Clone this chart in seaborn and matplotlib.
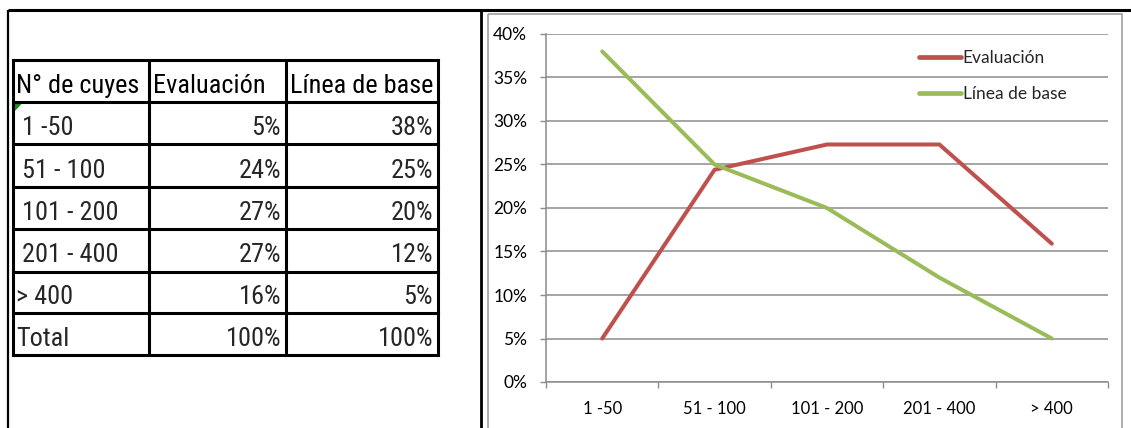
import matplotlib
matplotlib.use("Agg")
import matplotlib.pyplot as plt
from matplotlib import font_manager as fm
from matplotlib.patches import Polygon, Rectangle
from matplotlib.ticker import FixedLocator, PercentFormatter, NullFormatter
import numpy as np
import pandas as pd
import seaborn as sns

# ---- data ----
categorias = ["1 -50", "51 - 100", "101 - 200", "201 - 400", "> 400"]
evaluacion = [5.0, 24.4, 27.3, 27.3, 15.9]
linea_base = [38.0, 25.0, 20.0, 12.0, 5.0]
series = ["Evaluación", "Línea de base"]
encabezados = ["N° de cuyes", "Evaluación", "Línea de base"]
etiquetas_filas = [" 1 -50", " 51 - 100", " 101 - 200", " 201 - 400", "> 400", "Total"]
yticks = [0, 5, 10, 15, 20, 25, 30, 35, 40]

ROJO = "#C0504D"
VERDE = "#9BBB59"
GRIS = "#8C8C8C"

sns.set_style("white")
plt.rcParams["font.family"] = ["Lato", "DejaVu Sans"]


def fuente_estrecha():
    """Pick a narrow sans face for the spreadsheet table, if one is installed."""
    entradas = fm.fontManager.ttflist
    nombres = {f.name for f in entradas}
    for nombre in ["Liberation Sans Narrow", "Arial Narrow", "Roboto Condensed",
                   "Noto Sans Condensed", "Open Sans Condensed",
                   "DejaVu Sans Condensed"]:
        if nombre in nombres:
            return fm.FontProperties(family=nombre)
    estrechos = {"condensed", "semi-condensed", "extra-condensed",
                 "ultra-condensed"}
    for fam in ["Liberation Sans", "Noto Sans", "Roboto", "Open Sans", "DejaVu Sans"]:
        for f in entradas:
            st = f.stretch
            es_estrecho = (st in estrechos) if isinstance(st, str) else (st < 500)
            if f.name == fam and es_estrecho and f.weight in (400, "normal", "regular"):
                return fm.FontProperties(fname=f.fname)
    return fm.FontProperties(family="Liberation Sans")


W, H = 1131, 428
fig = plt.figure(figsize=(W / 100, H / 100), dpi=100)
fig.patch.set_facecolor("white")

# ---- overlay in pixel coordinates: frame and table ----
base = fig.add_axes([0, 0, 1, 1])
base.set_xlim(0, W)
base.set_ylim(H, 0)
base.axis("off")

# outer frame
base.plot([8, W], [10, 10], color="black", lw=2.2, solid_capstyle="butt")
base.plot([8, 8], [10, H], color="black", lw=1.6, solid_capstyle="butt")
base.plot([480.5, 480.5], [10, H], color="black", lw=2.0, solid_capstyle="butt")
# chart area border
base.add_patch(Rectangle((488, 13.5), 1121.5 - 488, H, fill=False,
                         edgecolor="#A6A6A6", lw=1.3))

# table
col_x = [12.5, 149, 286, 438]
row_y = [60, 102, 144, 186.5, 229, 271.5, 313, 355]
fp_tabla = fuente_estrecha()
fs_tab = 19.5

for x in col_x:
    base.plot([x, x], [row_y[0], row_y[-1]], color="black", lw=2.2,
              solid_capstyle="projecting")
for y in row_y:
    base.plot([col_x[0], col_x[-1]], [y, y], color="black", lw=2.2,
              solid_capstyle="projecting")


def pct(v):
    return f"{v:.0f}%"


filas = []
for i, cat in enumerate(categorias):
    filas.append((etiquetas_filas[i], pct(evaluacion[i]), pct(linea_base[i])))
filas.append((etiquetas_filas[-1], pct(sum(evaluacion)), pct(sum(linea_base))))

textos = []
# header
for j, txt in enumerate(encabezados):
    textos.append(base.text(col_x[j] + 4, row_y[1] - 9, txt, ha="left",
                            va="baseline", fontproperties=fp_tabla,
                            fontsize=fs_tab, color="black"))
# body
for i, (c0, c1, c2) in enumerate(filas):
    yb = row_y[i + 2] - 9
    textos.append(base.text(col_x[0] + 4, yb, c0, ha="left", va="baseline",
                            fontproperties=fp_tabla, fontsize=fs_tab))
    textos.append(base.text(col_x[2] - 5, yb, c1, ha="right", va="baseline",
                            fontproperties=fp_tabla, fontsize=fs_tab))
    textos.append(base.text(col_x[3] - 5, yb, c2, ha="right", va="baseline",
                            fontproperties=fp_tabla, fontsize=fs_tab))

# shrink the table text if the chosen face is too wide for the cells
renderer = fig.canvas.get_renderer()
ancho_max = max(
    t.get_window_extent(renderer).width / (col_x[k + 1] - col_x[k] - 8)
    for k, t in enumerate(textos[:3])
)
if ancho_max > 1.0:
    for t in textos:
        t.set_fontsize(fs_tab / ancho_max)

# small green cell indicator
base.add_patch(Polygon([[14, 103.5], [22, 103.5], [14, 112]], closed=True,
                       facecolor="#1E8C1E", edgecolor="none"))

# ---- line chart ----
L, R, T, B = 546, 1108, 34, 382
ax = fig.add_axes([L / W, (H - B) / H, (R - L) / W, (B - T) / H])

df = pd.DataFrame({
    "rango": categorias * 2,
    "valor": evaluacion + linea_base,
    "serie": [series[0]] * len(categorias) + [series[1]] * len(categorias),
})
sns.lineplot(data=df, x="rango", y="valor", hue="serie", hue_order=series,
             palette=[ROJO, VERDE], linewidth=2.9, sort=False, ax=ax,
             legend=True)

ax.set_xlim(-0.5, len(categorias) - 0.5)
ax.set_ylim(0, 40)
ax.set_xlabel("")
ax.set_ylabel("")

ax.yaxis.set_major_locator(FixedLocator(yticks))
ax.yaxis.set_major_formatter(PercentFormatter(decimals=0))
ax.grid(axis="y", color=GRIS, lw=1.1)
ax.grid(axis="x", visible=False)

ax.xaxis.set_major_locator(FixedLocator(np.arange(-0.5, len(categorias), 1.0)))
ax.xaxis.set_major_formatter(NullFormatter())
ax.set_xticks(np.arange(len(categorias)), categorias, minor=True)

ax.tick_params(axis="x", which="major", direction="out", length=4.5, width=1,
               color=GRIS, bottom=True)
ax.tick_params(axis="x", which="minor", length=0, pad=14, labelsize=12,
               labelcolor="black")
ax.tick_params(axis="y", which="major", direction="out", length=4.5, width=1,
               color=GRIS, left=True, pad=9, labelsize=12.5, labelcolor="black")

for s in ["top", "right"]:
    ax.spines[s].set_visible(False)
for s in ["left", "bottom"]:
    ax.spines[s].set_color(GRIS)
    ax.spines[s].set_linewidth(1.1)
ax.set_facecolor("none")

leg = ax.legend(loc="upper left", bbox_to_anchor=(919 / W, 1 - 50 / H),
                bbox_transform=fig.transFigure, frameon=False, fontsize=12.5,
                handlelength=2.4, handletextpad=0.12, labelspacing=1.18,
                borderpad=0, borderaxespad=0)
for h in leg.get_lines():
    h.set_linewidth(3.4)

fig.savefig("out.png", dpi=100, facecolor="white")
